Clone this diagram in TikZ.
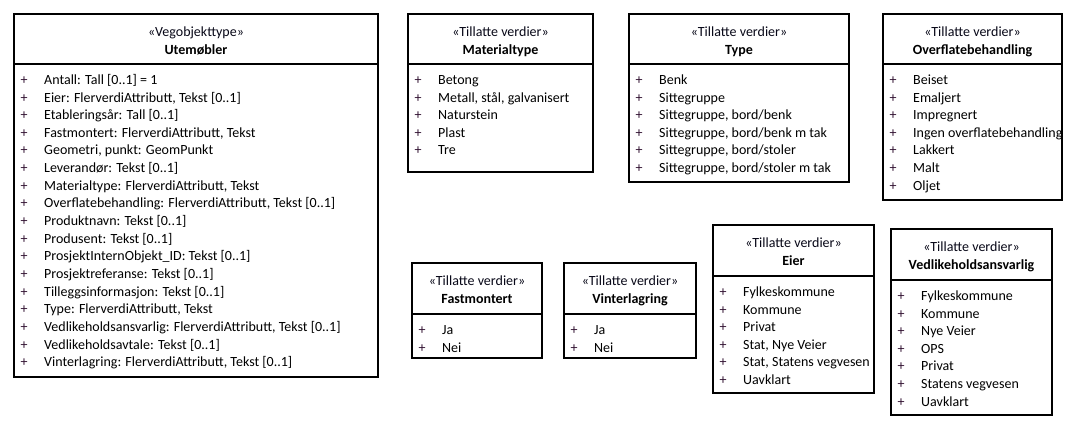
\documentclass[tikz,border=0pt]{standalone}
\usepackage{fontspec}
\setmainfont{Carlito}
\usetikzlibrary{fit}
\definecolor{pluscol}{HTML}{301030}
\definecolor{stcol}{HTML}{080818}
\tikzset{
  frame/.style={draw=black, line width=1.2pt, inner sep=0pt, fill=white},
  sepline/.style={draw=black, line width=1.2pt},
  stereo/.style={inner sep=0pt, anchor=mid, text=stcol, font=\fontsize{14}{17}\selectfont},
  titletext/.style={inner sep=0pt, anchor=mid, text=black, font=\fontsize{14}{17}\selectfont\bfseries},
  plusmark/.style={inner sep=0pt, anchor=mid, text=pluscol, font=\fontsize{14}{17}\selectfont},
  itemtext/.style={inner sep=0pt, anchor=mid west, text=black, font=\fontsize{14}{17}\selectfont},
}
% #1 name, #2 left, #3 top, #4 right, #5 bottom, #6 separator y, #7 stereotype, #8 title, #9 items
\newcommand{\umlbox}[9]{%
  \coordinate (#1-nw) at (#2,#3);
  \coordinate (#1-se) at (#4,#5);
  \node[frame, fit=(#1-nw)(#1-se)] (#1) {};
  \coordinate (#1-sl) at (#2,#6);
  \coordinate (#1-sr) at (#4,#6);
  \draw[sepline] (#1-sl) -- (#1-sr);
  \node[stereo] (#1-st) at ({(#2+#4)/2},{#3+20.5}) {«#7»};
  \node[titletext] (#1-ti) at ({(#2+#4)/2},{#3+38}) {#8};
  \foreach \t [count=\i] in {#9} {
    \node[plusmark] (#1-p\i) at ({#2+10},{#6+18+(\i-1)*17.65}) {+};
    \node[itemtext] (#1-i\i) at ({#2+30},{#6+18+(\i-1)*17.65}) {\t};
  }%
}
\begin{document}
\begin{tikzpicture}[x=1pt,y=-1pt]
\useasboundingbox[fill=white] (0,0) rectangle (1080,431);
\umlbox{ute}{14}{14}{378}{377}{64}{Vegobjekttype}{Utemøbler}{%
  {Antall: Tall [0..1] = 1},
  {Eier: FlerverdiAttributt, Tekst [0..1]},
  {Etableringsår: Tall [0..1]},
  {Fastmontert: FlerverdiAttributt, Tekst},
  {Geometri, punkt: GeomPunkt},
  {Leverandør: Tekst [0..1]},
  {Materialtype: FlerverdiAttributt, Tekst},
  {Overflatebehandling: FlerverdiAttributt, Tekst [0..1]},
  {Produktnavn: Tekst [0..1]},
  {Produsent: Tekst [0..1]},
  {ProsjektInternObjekt\_ID: Tekst [0..1]},
  {Prosjektreferanse: Tekst [0..1]},
  {Tilleggsinformasjon: Tekst [0..1]},
  {Type: FlerverdiAttributt, Tekst},
  {Vedlikeholdsansvarlig: FlerverdiAttributt, Tekst [0..1]},
  {Vedlikeholdsavtale: Tekst [0..1]},
  {Vinterlagring: FlerverdiAttributt, Tekst [0..1]}}
\umlbox{mat}{408}{14}{593}{172}{64}{Tillatte verdier}{Materialtype}{%
  {Betong},{Metall, stål, galvanisert},{Naturstein},{Plast},{Tre}}
\umlbox{typ}{629}{14}{849}{182}{64}{Tillatte verdier}{Type}{%
  {Benk},{Sittegruppe},{Sittegruppe, bord/benk},{Sittegruppe, bord/benk m tak},{Sittegruppe, bord/stoler},{Sittegruppe, bord/stoler m tak}}
\umlbox{ovf}{883}{14}{1062}{200}{64}{Tillatte verdier}{Overflatebehandling}{%
  {Beiset},{Emaljert},{Impregnert},{Ingen overflatebehandling},{Lakkert},{Malt},{Oljet}}
\umlbox{fast}{412}{263}{542}{358}{314}{Tillatte verdier}{Fastmontert}{{Ja},{Nei}}
\umlbox{vint}{564}{263}{696}{358}{314}{Tillatte verdier}{Vinterlagring}{{Ja},{Nei}}
\umlbox{eier}{713}{225}{874}{393}{276}{Tillatte verdier}{Eier}{%
  {Fylkeskommune},{Kommune},{Privat},{Stat, Nye Veier},{Stat, Statens vegvesen},{Uavklart}}
\umlbox{vedl}{891}{229}{1052}{415}{280}{Tillatte verdier}{Vedlikeholdsansvarlig}{%
  {Fylkeskommune},{Kommune},{Nye Veier},{OPS},{Privat},{Statens vegvesen},{Uavklart}}
\end{tikzpicture}
\end{document}
